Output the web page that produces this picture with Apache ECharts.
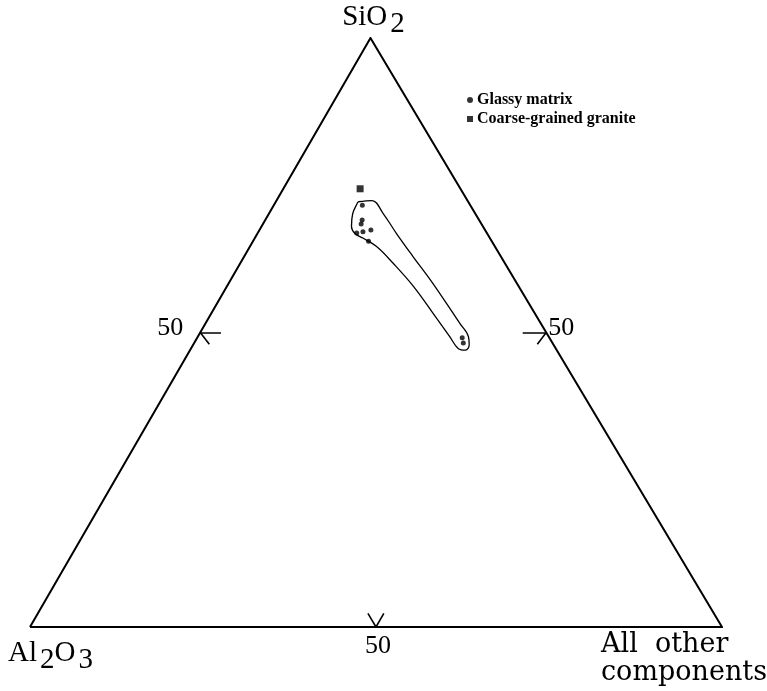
<!DOCTYPE html>
<html>
<head>
<meta charset="utf-8">
<script src="https://cdn.jsdelivr.net/npm/echarts@6/dist/echarts.min.js"></script>
<style>
  html, body { margin: 0; padding: 0; background: #fff; }
  #chart { width: 767px; height: 691px; }
</style>
</head>
<body>
<div id="chart"></div>
<script>
// Compositions in %: SiO2 (apex), Al2O3 (lower left), all other components (lower right)
const glassySiO2  = [71.6, 69.1, 68.4, 67.1, 66.9, 67.4, 65.5, 49.1, 48.2];
const glassyAl2O3 = [15.6, 16.9, 17.4, 17.8, 18.8, 16.5, 17.8, 12.6, 12.9];
const glassyOther = [12.8, 14.0, 14.2, 15.1, 14.3, 16.1, 16.7, 38.3, 38.9];

const graniteSiO2  = [74.4];
const graniteAl2O3 = [14.5];
const graniteOther = [11.1];

// Field drawn round the glassy matrix analyses
const fieldSiO2  = [72.2, 72.4, 70.2, 66.8, 62.9, 58.9, 55.0, 51.6, 49.3, 47.9, 47.0, 47.3, 49.3, 53.3, 57.8, 61.75, 64.6, 66.0, 66.8, 68.0, 70.2, 71.9];
const fieldAl2O3 = [15.9, 13.8, 13.3, 13.1, 12.7, 12.2, 11.9, 11.7, 11.6, 12.2, 13.2, 14.1, 14.3, 14.7, 15.2, 16.15, 17.1, 18.3, 19.1, 19.0, 17.7, 16.2];
const fieldOther = [11.9, 13.8, 16.5, 20.1, 24.4, 28.9, 33.1, 36.7, 39.1, 39.9, 39.8, 38.6, 36.4, 32.0, 27.0, 22.1, 18.3, 15.7, 14.1, 13.0, 12.1, 11.9];

const tickValue = 50;
const tickLabel = '50';

const seriesNames = ['Glassy matrix', 'Coarse-grained granite'];

// Ternary -> cartesian in data units: Al2O3 corner at (0,0), other corner at (100,0),
// SiO2 corner at (APEX_X, H); the drawn triangle leans very slightly to the left
const H = Math.sqrt(3) / 2 * 100;
const APEX_X = 49.2;
function toXY(s, a, o) {
  const t = s + a + o;
  const sn = s / t * 100, on = o / t * 100;
  return [on + sn * APEX_X / 100, sn * H / 100];
}
function zipXY(S, A, O) { return S.map((s, i) => toXY(s, A[i], O[i])); }

const vSi = toXY(100, 0, 0), vAl = toXY(0, 100, 0), vOt = toXY(0, 0, 100);

// short guide marks at the 50 % point of every side
const t = tickValue, r = 100 - tickValue;
const tickSegs = [
  [toXY(t, r, 0), toXY(t, r - 3, 3)],
  [toXY(t, r, 0), toXY(t - 2, r - 0.3, 2.3)],
  [toXY(t, 0, r), toXY(t, 3.4, r - 3.4)],
  [toXY(t, 0, r), toXY(t - 2, 2.3, r - 0.3)],
  [toXY(0, t, r), toXY(2.3, t, r - 2.3)],
  [toXY(0, t, r), toXY(2.3, t - 2.3, r)]
];

const fieldPts = zipXY(fieldSiO2, fieldAl2O3, fieldOther);
fieldPts.push(fieldPts[0]);

const chart = echarts.init(document.getElementById('chart'), null, { renderer: 'canvas' });

const serif = '"Liberation Serif", "Times New Roman", serif';

chart.setOption({
  animation: false,
  backgroundColor: '#fff',
  grid: { left: 30, right: 45, top: 38, bottom: 64 },
  xAxis: { type: 'value', min: 0, max: 100, show: false },
  yAxis: { type: 'value', min: 0, max: H, show: false },
  legend: {
    data: seriesNames,
    orient: 'vertical',
    left: 462,
    top: 87,
    itemWidth: 6,
    itemHeight: 6,
    itemGap: 3,
    textStyle: { fontFamily: serif, fontWeight: 'bold', fontSize: 16, color: '#000', padding: [0, 0, 0, -1] },
    selectedMode: false
  },
  series: [
    {
      name: 'frame', type: 'line', silent: true,
      data: [vAl, vOt, vSi, vAl],
      symbol: 'none',
      lineStyle: { color: '#000', width: 2, join: 'miter' },
      z: 1
    },
    {
      name: 'ticks', type: 'lines', coordinateSystem: 'cartesian2d', silent: true,
      data: tickSegs.map(c => ({ coords: c })),
      lineStyle: { color: '#000', width: 1.6, opacity: 1 },
      z: 2
    },
    {
      name: 'field', type: 'line', silent: true,
      data: fieldPts,
      smooth: 0.4,
      symbol: 'none',
      lineStyle: { color: '#000', width: 1.3 },
      z: 3
    },
    {
      name: seriesNames[0], type: 'scatter',
      data: zipXY(glassySiO2, glassyAl2O3, glassyOther),
      symbol: 'circle', symbolSize: 5,
      itemStyle: { color: '#000' },
      z: 4
    },
    {
      name: seriesNames[1], type: 'scatter',
      data: zipXY(graniteSiO2, graniteAl2O3, graniteOther),
      symbol: 'rect', symbolSize: 7,
      itemStyle: { color: '#000' },
      z: 4
    }
  ]
});

// vertex and tick labels positioned through the grid's own scales
const P = p => chart.convertToPixel({ gridIndex: 0 }, p);
const pSi = P(vSi), pAl = P(vAl), pOt = P(vOt);
const pL = P(toXY(t, r, 0)), pR = P(toXY(t, 0, r)), pB = P(toXY(0, t, r));

function txt(text, x, y, align, vAlign, extra) {
  return {
    type: 'text', silent: true, z: 10,
    style: Object.assign({
      text: text, x: x, y: y,
      align: align, verticalAlign: vAlign,
      textAlign: align, textVerticalAlign: vAlign,
      fill: '#000', font: '26px ' + serif
    }, extra || {})
  };
}

const chemRich = {
  m: { fontFamily: serif, fontSize: 29, color: '#000', verticalAlign: 'middle' },
  s: { fontFamily: serif, fontSize: 29, color: '#000', verticalAlign: 'middle', padding: [14, 0, 0, 3] }
};

chart.setOption({
  graphic: [
    txt('{m|SiO}{s|2}', pSi[0] + 3, pSi[1] + 1, 'center', 'bottom', { rich: chemRich }),
    txt('{m|Al}{s|2}{m|O}{s|3}', pAl[0] - 22, pAl[1] + 5, 'left', 'top', { rich: chemRich }),
    txt('All  other', pOt[0] - 121, pOt[1] + 4, 'left', 'top', { font: '27px "DejaVu Serif", serif' }),
    txt('components', pOt[0] - 121, pOt[1] + 32, 'left', 'top', { font: '27px "DejaVu Serif", serif' }),
    txt(tickLabel, pL[0] - 17, pL[1] - 4, 'right', 'middle'),
    txt(tickLabel, pR[0] + 2, pR[1] - 4, 'left', 'middle'),
    txt(tickLabel, pB[0] + 2, pB[1] + 6, 'center', 'top')
  ]
});
</script>
</body>
</html>
